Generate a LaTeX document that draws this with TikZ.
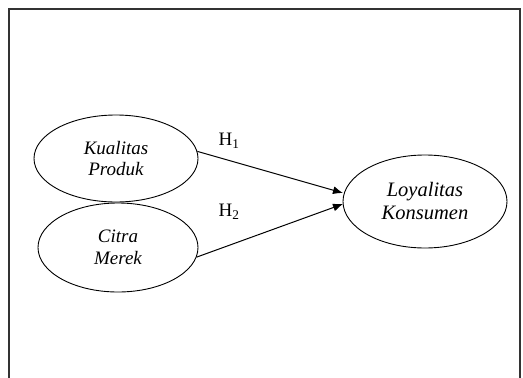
\documentclass[tikz,border=0pt]{standalone}
\usepackage{fontspec}
\setmainfont{Liberation Serif}
\usetikzlibrary{shapes.geometric,arrows.meta}
\begin{document}
\begin{tikzpicture}[x=1pt,y=-1pt,
  latent/.style={ellipse,draw,line width=0.9pt,inner sep=0pt,align=center},
  path/.style={draw,line width=1pt,-{Latex[length=10pt,width=8pt]}},
  hlab/.style={font=\fontsize{19}{20}\selectfont,inner sep=0pt}]
\useasboundingbox (0,0) rectangle (523,378);
\draw[line width=1.2pt,draw=black!80] (9,400) -- (9,9) -- (520,9) -- (520,400);
\node[latent,minimum width=164pt,minimum height=87pt,font=\itshape\fontsize{19}{21}\selectfont] (kp) at (116,158.5) {Kualitas\\Produk};
\node[latent,minimum width=160pt,minimum height=89pt,font=\itshape\fontsize{19}{22}\selectfont] (cm) at (118,247.5) {Citra\\Merek};
\node[latent,minimum width=164pt,minimum height=93pt,font=\itshape\fontsize{20.5}{23}\selectfont] (lk) at (425,201.5) {Loyalitas\\Konsumen};
\coordinate (e1) at (343,193);
\coordinate (e2) at (343,204);
\draw[path] (kp.5) -- (e1);
\draw[path] (cm.-7) -- (e2);
\node[hlab] (h1) at (229,141) {H\textsubscript{1}};
\node[hlab] (h2) at (229,212) {H\textsubscript{2}};
\end{tikzpicture}
\end{document}
